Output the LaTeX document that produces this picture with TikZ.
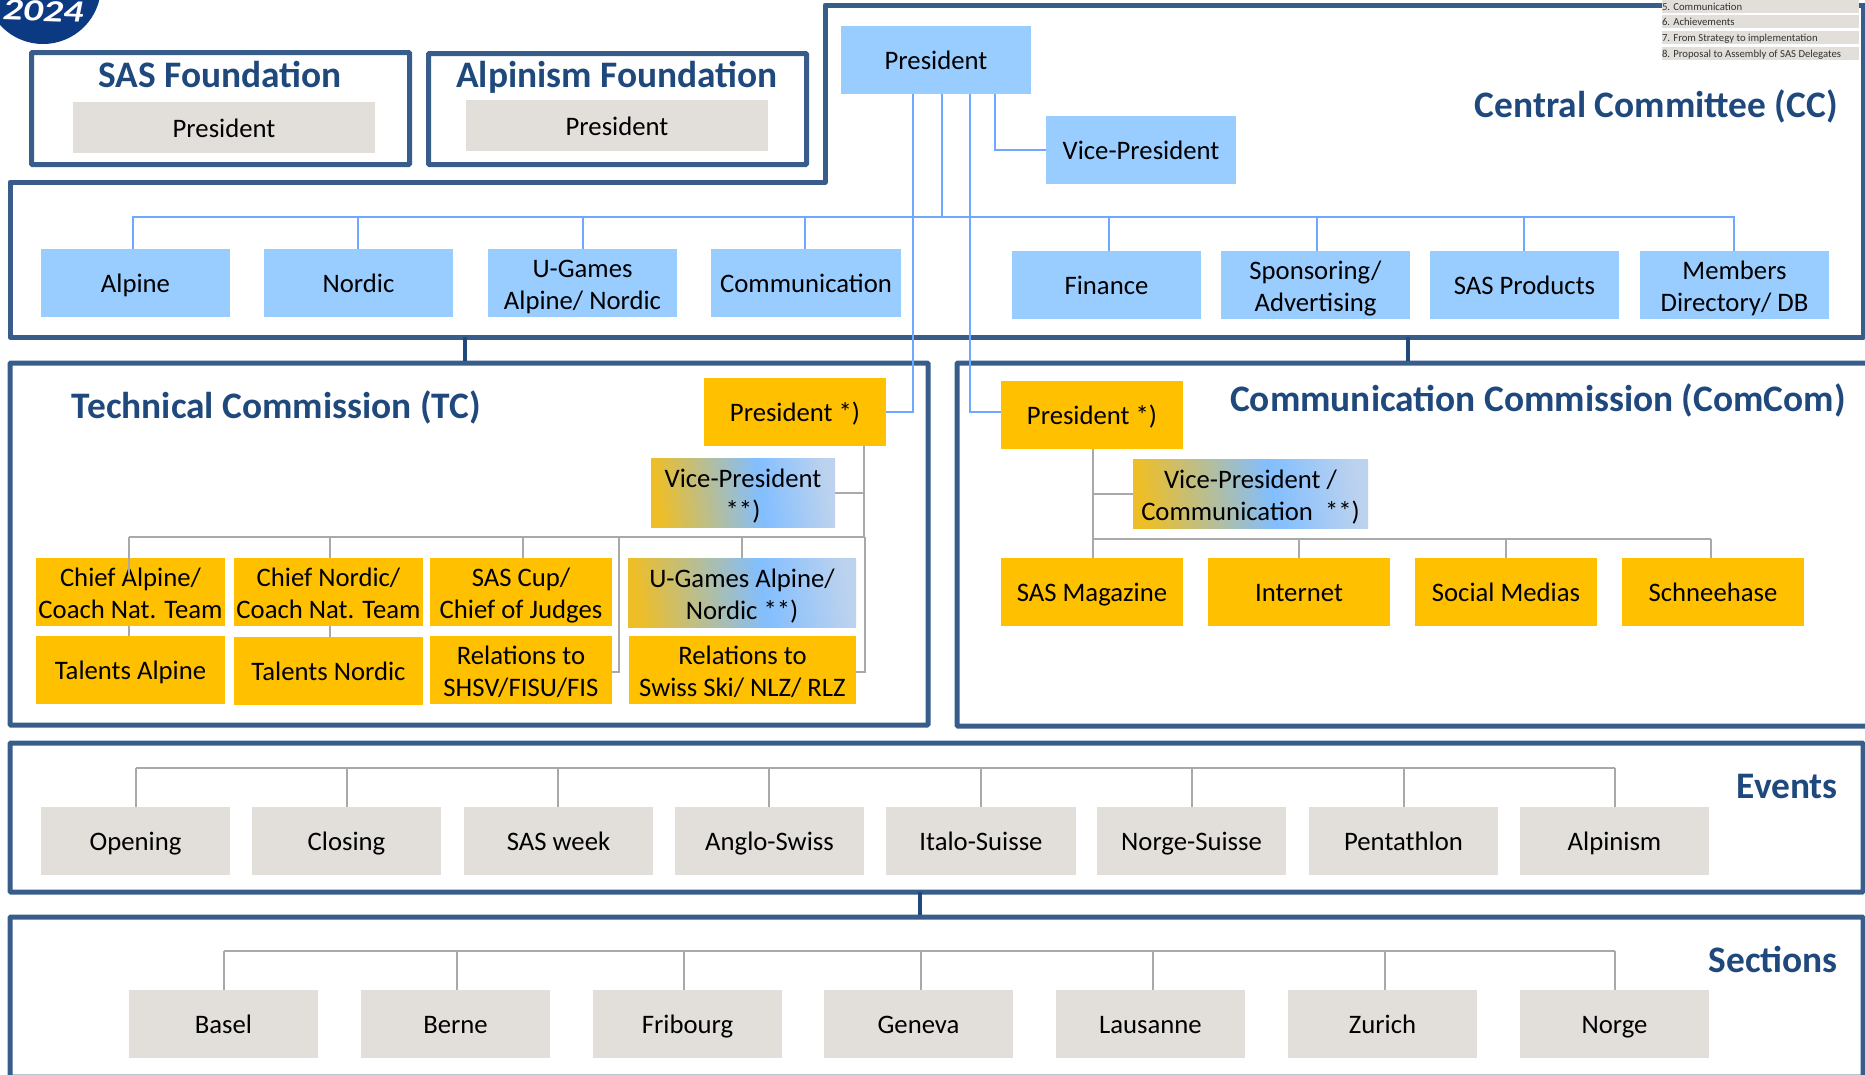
\documentclass[tikz,border=0pt]{standalone}
\usepackage{fontspec}
\setmainfont{Carlito}
\definecolor{navy}{HTML}{385D8A}
\definecolor{tie}{HTML}{1F497D}
\definecolor{skyb}{HTML}{99CCFF}
\definecolor{linkb}{HTML}{6FA8FF}
\definecolor{paleg}{HTML}{E2DFDA}
\definecolor{amber}{HTML}{FFC000}
\definecolor{linkg}{HTML}{A9A9A9}
\definecolor{logob}{HTML}{0B3A82}
\definecolor{gradl}{HTML}{EDBE28}
\definecolor{gradm}{HTML}{82BEFF}
\definecolor{gradr}{HTML}{BCD2EE}
\pgfdeclarehorizontalshading{vpgrad}{100bp}{color(0bp)=(gradl);color(25bp)=(gradl);color(55bp)=(gradm);color(75bp)=(gradr);color(100bp)=(gradr)}
\tikzset{
  x=1pt,y=-1pt,
  box/.style={inner sep=0pt,align=center,font=\fontsize{26.7}{32}\selectfont,text=black,
    execute at begin node={\rule{0pt}{26.5pt}},execute at end node={\rule[-7pt]{0pt}{7pt}}},
  dbl/.style={execute at begin node={\rule{0pt}{60pt}}},
  bluebox/.style={box,fill=skyb},
  greybox/.style={box,fill=paleg},
  amberbox/.style={box,fill=amber},
  gradbox/.style={box,shading=vpgrad,shading angle=8},
  frame/.style={inner sep=0pt,draw=navy,line width=5pt,rounded corners=1pt},
  tieline/.style={draw=tie,line width=4.5pt},
  bl/.style={draw=linkb,line width=2pt},
  gr/.style={draw=linkg,line width=2pt},
  busg/.style={draw=linkg,line width=2.6pt},
  title/.style={inner sep=0pt,text=tie,font=\fontsize{37.4}{37.4}\selectfont\bfseries},
  legendbar/.style={inner sep=0pt,fill=paleg,text=black!80,text depth=0pt,align=left,font=\fontsize{10.7}{12}\selectfont},
}
\newcommand{\bx}[7]{\node[#6,minimum width={(#4-#2)*1pt},minimum height={(#5-#3)*1pt}] (#1) at ({(#2+#4)/2},{(#3+#5)/2}) {#7};}
\begin{document}
\begin{tikzpicture}
\useasboundingbox (0,0) rectangle (1865,1074);
\clip (0,0) rectangle (1865,1074);
% logo
\fill[logob] (43,-14) circle[radius=58];
\node[inner sep=0pt,text=white,rotate=-2,xscale=1.28,font=\fontsize{31}{31}\selectfont\bfseries\itshape] (logoyear) at (43,11) {2024};
% frames
\bx{fsas}{31.5}{52.5}{409.5}{164.5}{frame}{}
\bx{falp}{428.5}{53.5}{806.5}{164.5}{frame}{}
\draw[draw=navy,line width=5pt,line join=round] (1870,5) -- (825,5) -- (825,182) -- (10,182) -- (10,337) -- (1863.5,337) -- (1863.5,5);
\coordinate (ccbl) at (465,337);
\coordinate (ccbr) at (1408,337);
\bx{ftc}{10}{363}{928}{725}{frame}{}
\bx{fcom}{957}{363}{1872}{726}{frame}{}
\bx{fev}{10}{743}{1863}{892}{frame}{}
\bx{fsec}{10}{917}{1863}{1077}{frame}{}
\draw[tieline] (ccbl) -- (ccbl |- ftc.north);
\draw[tieline] (ccbr) -- (ccbr |- fcom.north);
\coordinate (evtie) at (920,892);
\draw[tieline] (evtie) -- (evtie |- fsec.north);
% titles
\node[title] (tsas) at (220,74) {SAS Foundation};
\node[title] (talp) at (617,77) {Alpinism Foundation};
\node[title,anchor=east] (tcc) at (1838,106) {Central Committee (CC)};
\node[title] (ttc) at (276.5,407) {Technical Commission (TC)};
\node[title] (tcom) at (1538,400) {Communication Commission (ComCom)};
\node[title,anchor=east] (tev) at (1838,786) {Events};
\node[title,anchor=east] (tsec) at (1838,959) {Sections};
% boxes
\bx{psas}{73}{102}{375}{153}{greybox}{President}
\bx{palp}{466}{100}{768}{151}{greybox}{President}
\bx{cpres}{841}{26}{1031}{94}{bluebox}{President}
\bx{cvp}{1046}{116}{1236}{184}{bluebox}{Vice-President}
\bx{alpine}{41}{249}{230}{317}{bluebox}{Alpine}
\bx{nordic}{264}{249}{453}{317}{bluebox}{Nordic}
\bx{ugames}{488}{249}{677}{317}{bluebox,dbl}{U-Games\\Alpine/ Nordic}
\bx{commu}{711}{249}{901}{317}{bluebox}{Communication}
\bx{finance}{1012}{251}{1201}{319}{bluebox}{Finance}
\bx{spons}{1221}{251}{1410}{319}{bluebox,dbl}{Sponsoring/\\Advertising}
\bx{prod}{1430}{251}{1619}{319}{bluebox}{SAS Products}
\bx{members}{1640}{251}{1829}{319}{bluebox,dbl}{Members\\Directory/ DB}
% technical commission
\bx{tpres}{704}{378}{886}{446}{amberbox}{President *)}
\bx{tvp}{651}{458}{835}{527}{gradbox,dbl}{Vice-President\\**)}
\bx{chiefa}{36}{558}{225}{626}{amberbox,dbl}{Chief Alpine/\\Coach Nat. Team}
\bx{chiefn}{234}{558}{423}{626}{amberbox,dbl}{Chief Nordic/\\Coach Nat. Team}
\bx{sascup}{430}{558}{612}{626}{amberbox,dbl}{SAS Cup/\\Chief of Judges}
\bx{tug}{628}{558}{856}{627}{gradbox,dbl}{U-Games Alpine/\\Nordic **)}
\bx{tala}{36}{636}{225}{704}{amberbox}{Talents Alpine}
\bx{taln}{234}{637}{423}{705}{amberbox}{Talents Nordic}
\bx{relf}{430}{636}{612}{704}{amberbox,dbl}{Relations to\\SHSV/FISU/FIS}
\bx{rels}{629}{636}{856}{704}{amberbox,dbl}{Relations to\\Swiss Ski/ NLZ/ RLZ}
% communication commission
\bx{mpres}{1001}{381}{1183}{449}{amberbox}{President *)}
\bx{mvp}{1133}{459}{1368}{528}{gradbox,dbl}{Vice-President /\\Communication\ \ **)}
\bx{mag}{1001}{558}{1183}{626}{amberbox}{SAS Magazine}
\bx{inet}{1208}{558}{1390}{626}{amberbox}{Internet}
\bx{soc}{1415}{558}{1597}{626}{amberbox}{Social Medias}
\bx{schnee}{1622}{558}{1804}{626}{amberbox}{Schneehase}
% events
\bx{eopen}{41}{807}{230}{875}{greybox}{Opening}
\bx{eclose}{252}{807}{441}{875}{greybox}{Closing}
\bx{eweek}{464}{807}{653}{875}{greybox}{SAS week}
\bx{eanglo}{675}{807}{864}{875}{greybox}{Anglo-Swiss}
\bx{eital}{886}{807}{1076}{875}{greybox}{Italo-Suisse}
\bx{enorge}{1097}{807}{1286}{875}{greybox}{Norge-Suisse}
\bx{epent}{1309}{807}{1498}{875}{greybox}{Pentathlon}
\bx{ealp}{1520}{807}{1709}{875}{greybox}{Alpinism}
% sections
\bx{sbas}{129}{990}{318}{1058}{greybox}{Basel}
\bx{sber}{361}{990}{550}{1058}{greybox}{Berne}
\bx{sfri}{593}{990}{782}{1058}{greybox}{Fribourg}
\bx{sgen}{824}{990}{1013}{1058}{greybox}{Geneva}
\bx{slau}{1056}{990}{1245}{1058}{greybox}{Lausanne}
\bx{szur}{1288}{990}{1477}{1058}{greybox}{Zurich}
\bx{snor}{1520}{990}{1709}{1058}{greybox}{Norge}
% legend
\bx{leg5}{1662}{0}{1859}{13}{legendbar}{}
\bx{leg6}{1662}{15}{1859}{28}{legendbar}{}
\bx{leg7}{1662}{31}{1859}{44}{legendbar}{}
\bx{leg8}{1662}{47}{1859}{60}{legendbar}{}
\node[legendbar,fill=none,anchor=west] (lt5) at (leg5.west) {5. Communication};
\node[legendbar,fill=none,anchor=west] (lt6) at (leg6.west) {6. Achievements};
\node[legendbar,fill=none,anchor=west] (lt7) at (leg7.west) {7. From Strategy to implementation};
\node[legendbar,fill=none,anchor=west] (lt8) at (leg8.west) {8. Proposal to Assembly of SAS Delegates};
% blue connectors
\coordinate (busc) at (942,217.3);
\draw[bl] ([xshift=-2.5pt]alpine.north) |- (busc);
\draw[bl] ([xshift=-0.5pt]nordic.north) -- ([xshift=-0.5pt]nordic.north |- busc);
\draw[bl] (ugames.north) -- (ugames.north |- busc);
\draw[bl] ([xshift=-1pt]commu.north) -- ([xshift=-1pt]commu.north |- busc);
\draw[bl] ([xshift=2.5pt]finance.north) -- ([xshift=2.5pt]finance.north |- busc);
\draw[bl] ([xshift=1pt]spons.north) -- ([xshift=1pt]spons.north |- busc);
\draw[bl] ([xshift=-1pt]prod.north) -- ([xshift=-1pt]prod.north |- busc);
\draw[bl] ([xshift=-1pt]members.north) |- (busc);
\draw[bl] ([xshift=6pt]cpres.south) -- (busc);
\draw[bl] ([xshift=-23pt]cpres.south) |- (tpres.east);
\draw[bl] ([xshift=34pt]cpres.south) |- ([yshift=3pt]mpres.west);
\draw[bl] ([xshift=59pt]cpres.south) |- (cvp.west);
% grey connectors technical commission
\coordinate (bust) at (864,537);
\draw[gr] ([xshift=160pt]tpres.south west) -- ([xshift=160pt]tpres.south west |- bust);
\draw[gr] ([xshift=160pt]tpres.south west |- tvp.east) -- (tvp.east);
\draw[busg] ([xshift=-1.5pt]chiefa.north |- bust) -- (bust);
\draw[gr] ([xshift=-1.5pt,yshift=-16pt]chiefa.north) -- ([xshift=-1.5pt]chiefa.north |- bust);
\draw[gr] ([xshift=1.5pt]chiefn.north) -- ([xshift=1.5pt]chiefn.north |- bust);
\draw[gr] ([xshift=2pt]sascup.north) -- ([xshift=2pt]sascup.north |- bust);
\draw[gr] (tug.north) -- (tug.north |- bust);
\draw[gr] ([xshift=-1.5pt]chiefa.south) -- ([xshift=-1.5pt]tala.north);
\draw[gr] ([xshift=1.5pt]chiefn.south) -- ([xshift=1.5pt]taln.north);
\coordinate (brl) at (619,537);
\coordinate (brr) at (865,537);
\draw[gr] (brl) |- ([yshift=-2pt]relf.east);
\draw[gr] (brr) |- ([yshift=-2pt]rels.east);
% grey connectors communication commission
\coordinate (busm) at (1711,539);
\draw[gr] ([xshift=1pt]mpres.south) -- ([xshift=1pt]mag.north);
\draw[gr] ([xshift=1pt]mpres.south |- mvp.west) -- (mvp.west);
\draw[busg] ([xshift=1pt]mag.north |- busm) -- (busm);
\draw[gr] (inet.north) -- (inet.north |- busm);
\draw[gr] (soc.north) -- (soc.north |- busm);
\draw[gr] ([xshift=-2pt]schnee.north) -- ([xshift=-2pt]schnee.north |- busm);
% grey connectors events
\coordinate (buse) at (1615,768);
\draw[busg] (eopen.north |- buse) -- (buse);
\foreach \n/\s in {eopen/0,eclose/0,eweek/-1,eanglo/-0.5,eital/0,enorge/0.5,epent/0.5,ealp/0.5}{\draw[gr] ([xshift=\s pt]\n.north) -- ([xshift=\s pt]\n.north |- buse);}
% grey connectors sections
\coordinate (buss) at (1615,951);
\draw[busg] ([xshift=0.5pt]sbas.north |- buss) -- (buss);
\foreach \n/\s in {sbas/0.5,sber/1.5,sfri/-3.5,sgen/2.5,slau/2.5,szur/2.5,snor/0.5}{\draw[gr] ([xshift=\s pt]\n.north) -- ([xshift=\s pt]\n.north |- buss);}
\end{tikzpicture}
\end{document}
